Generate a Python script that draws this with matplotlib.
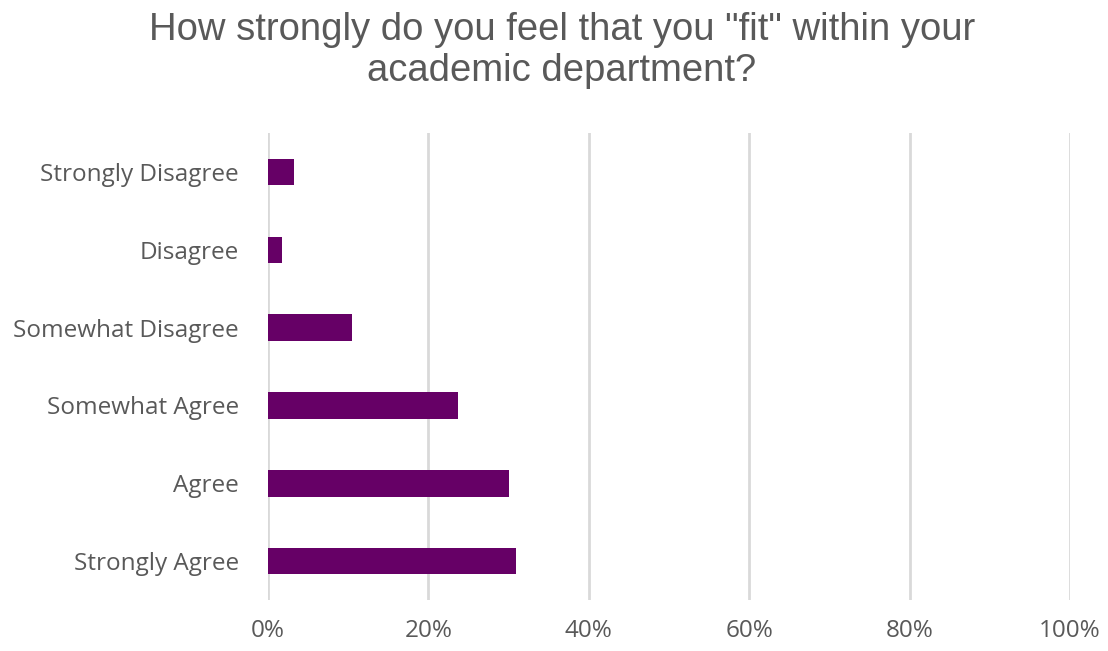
import matplotlib.pyplot as plt
from matplotlib.ticker import PercentFormatter

# survey responses (share of respondents, %)
categories = ["Strongly Agree", "Agree", "Somewhat Agree",
              "Somewhat Disagree", "Disagree", "Strongly Disagree"]
shares = [30.9, 30.0, 23.7, 10.5, 1.7, 3.3]
x_ticks = [0, 20, 40, 60, 80, 100]

BAR_COLOR = "#660066"
GRID_COLOR = "#d9d9d9"
TEXT_COLOR = "#595959"

fig = plt.figure(figsize=(11.08, 6.51), dpi=100)
ax = fig.add_axes([0.2419, 0.0783, 0.7238, 0.7174])

ax.barh(range(len(categories)), shares, height=0.34, color=BAR_COLOR, zorder=3)

ax.set_xlim(0, 100)
ax.set_ylim(-0.5, len(categories) - 0.5)
ax.set_xticks(x_ticks)
ax.xaxis.set_major_formatter(PercentFormatter(decimals=0))
ax.set_yticks(range(len(categories)))
ax.set_yticklabels(categories)

ax.grid(axis="x", color=GRID_COLOR, linewidth=2, zorder=0)
ax.set_axisbelow(True)
for side in ["top", "right", "bottom", "left"]:
    ax.spines[side].set_visible(False)
ax.tick_params(axis="both", length=0, labelcolor=TEXT_COLOR)
ax.tick_params(axis="x", pad=14, labelsize=17.5)
ax.tick_params(axis="y", pad=21, labelsize=17.5)
for lbl in ax.get_xticklabels() + ax.get_yticklabels():
    lbl.set_fontfamily("Open Sans")

fig.text(0.507, 0.982, 'How strongly do you feel that you "fit" within your\nacademic department?',
         ha="center", va="top", fontsize=27.5, color=TEXT_COLOR,
         family="Liberation Sans", linespacing=1.18)

fig.savefig("out.png", dpi=100)
